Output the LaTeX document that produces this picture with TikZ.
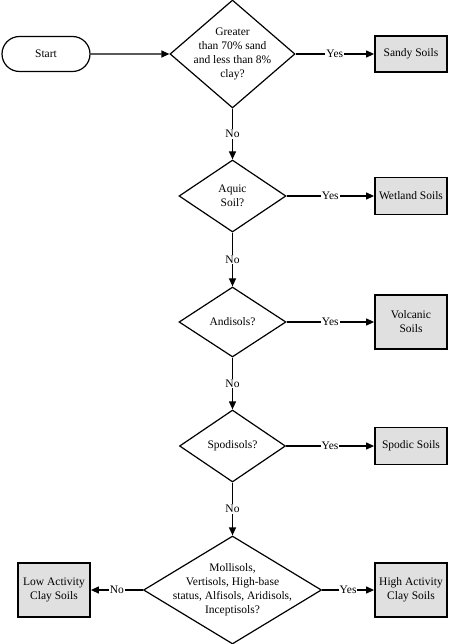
\documentclass[tikz,border=0pt]{standalone}
\usepackage{fontspec}
\setmainfont{Liberation Serif}
\usetikzlibrary{shapes.geometric,shapes.misc,arrows.meta}
\tikzset{
  base/.style={font=\fontsize{11.5}{14}\selectfont},
  startbox/.style={base,rounded rectangle,draw,line width=1.2pt,minimum width=88pt,minimum height=35pt,inner sep=0pt},
  dia/.style={base,diamond,draw,line width=1.2pt,inner sep=0pt,aspect=1},
  result/.style={base,rectangle,draw,line width=1.8pt,fill=black!12,minimum width=72pt,inner sep=0pt,align=center},
  conn/.style={line width=1.2pt,-{Triangle[length=8pt,width=7pt]}},
  lbl/.style={base,fill=white,inner sep=1pt}
}
\begin{document}
\begin{tikzpicture}[x=1pt,y=-1pt]
\useasboundingbox (0,0) rectangle (448,644);
\node[startbox] (start) at (46,54) {Start};
\node[dia,minimum width=125pt,minimum height=108pt] (d1) at (232.5,54) {};
\node[base,align=center] at (d1) {Greater\\than 70\% sand\\and less than 8\%\\clay?};
\node[result,minimum height=36pt] (sandy) at (411,54) {Sandy Soils};

\node[dia,minimum width=107pt,minimum height=72pt] (d2) at (232.5,196) {};
\node[base,align=center] at (d2) {Aquic\\Soil?};
\node[result,minimum height=37pt] (wet) at (411,196) {Wetland Soils};

\node[dia,minimum width=107pt,minimum height=70pt] (d3) at (232.5,322) {};
\node[base,align=center] at (d3) {Andisols?};
\node[result,minimum height=54pt] (volc) at (411,322) {Volcanic\\Soils};

\node[dia,minimum width=106pt,minimum height=72pt] (d4) at (232.5,446) {};
\node[base,align=center] at (d4) {Spodisols?};
\node[result,minimum height=37pt] (spod) at (411,446) {Spodic Soils};

\node[dia,minimum width=178pt,minimum height=108pt] (d5) at (232.5,590) {};
\node[base,align=center] at (d5) {Mollisols,\\Vertisols, High-base\\status, Alfisols, Aridisols,\\Inceptisols?};
\node[result,minimum height=54pt] (low) at (54,590) {Low Activity\\Clay Soils};
\node[result,minimum height=54pt] (high) at (411,590) {High Activity\\Clay Soils};

\draw[conn] (start) -- (d1);
\draw[conn] (d1) -- node[lbl] {Yes} (sandy);
\draw[conn] (d1) -- node[lbl] {No} (d2);
\draw[conn] (d2) -- node[lbl] {Yes} (wet);
\draw[conn] (d2) -- node[lbl] {No} (d3);
\draw[conn] (d3) -- node[lbl] {Yes} (volc);
\draw[conn] (d3) -- node[lbl] {No} (d4);
\draw[conn] (d4) -- node[lbl] {Yes} (spod);
\draw[conn] (d4) -- node[lbl] {No} (d5);
\draw[conn] (d5) -- node[lbl] {Yes} (high);
\draw[conn] (d5) -- node[lbl] {No} (low);
\end{tikzpicture}
\end{document}
